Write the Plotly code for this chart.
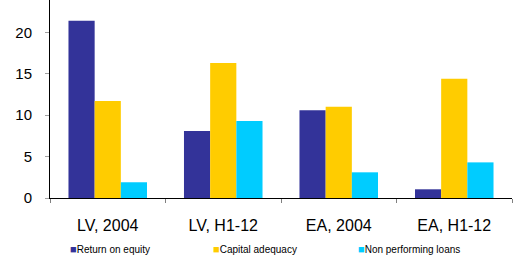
import plotly.graph_objects as go

categories = ["LV, 2004", "LV, H1-12", "EA, 2004", "EA, H1-12"]
return_on_equity = [21.4, 8.1, 10.6, 1.05]
capital_adequacy = [11.7, 16.3, 11.0, 14.4]
non_performing_loans = [1.9, 9.3, 3.1, 4.3]
y_ticks = [0, 5, 10, 15, 20]

series = [
    ("Return on equity", return_on_equity, "#333399"),
    ("Capital adequacy", capital_adequacy, "#FFCC00"),
    ("Non performing loans", non_performing_loans, "#00CCFF"),
]
legend_x = [0.039, 0.349, 0.663]

fig = go.Figure()
for (name, vals, color), lx in zip(series, legend_x):
    fig.add_trace(go.Bar(x=categories, y=vals, name=name, showlegend=False,
                         marker=dict(color=color, line=dict(width=0))))
    fig.add_annotation(
        x=lx, y=-0.258, xref="paper", yref="paper", xanchor="left", yanchor="middle",
        showarrow=False, font=dict(size=10, color="black"),
        text=f"<span style='color:{color};font-size:11px'>■</span>{name}")

fig.update_layout(
    width=526, height=257,
    margin=dict(l=50, r=14, t=0, b=59, autoexpand=False),
    paper_bgcolor="white", plot_bgcolor="white",
    barmode="group", bargap=0.32, bargroupgap=0,
    font=dict(family="Liberation Sans, Arial", color="#000000"),
    showlegend=False,
)
fig.update_xaxes(showline=True, linecolor="black", linewidth=1,
                 ticks="outside", tickson="boundaries", ticklen=4, tickcolor="#808080",
                 tickfont=dict(size=16), showgrid=False, ticklabelstandoff=13)
fig.update_yaxes(range=[0, 23.9], tickvals=y_ticks, showline=True, linecolor="black",
                 linewidth=1, ticks="outside", ticklen=4, tickcolor="#a0a0a0",
                 showgrid=False, zeroline=False,
                 tickfont=dict(size=15), ticklabelstandoff=10)

fig.write_html("out.html", config={"displayModeBar": False},
               post_script="document.body.style.margin='0';")
